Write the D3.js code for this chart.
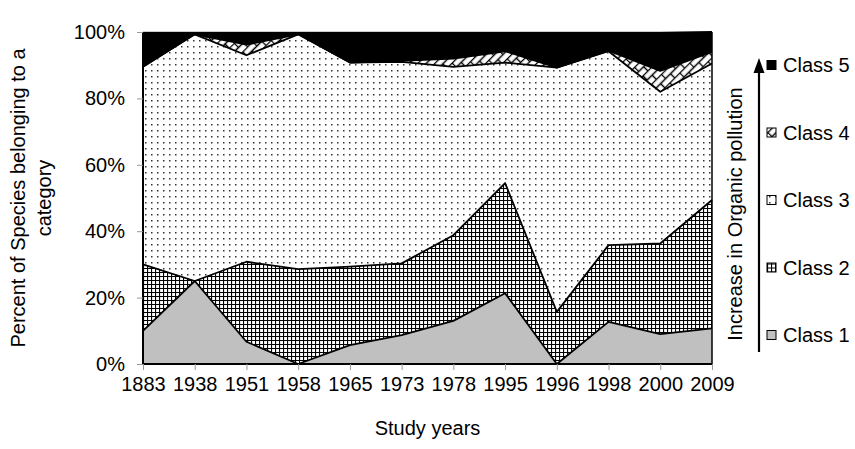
<!DOCTYPE html>
<html>
<head>
<meta charset="utf-8">
<script src="https://cdn.jsdelivr.net/npm/d3@7"></script>
<style>
  body { margin: 0; background: #fff; }
  svg { font-family: "Liberation Sans", Arial, sans-serif; }
</style>
</head>
<body>
<svg width="855" height="449"></svg>
<script>
// study years (categories)
var years = ["1883", "1938", "1951", "1958", "1965", "1973", "1978", "1995", "1996", "1998", "2000", "2009"];

// percent of species per class
var class1 = [10, 25, 6.7, 0, 5.7, 8.7, 13, 21.3, 0, 12.7, 9, 10.7];
var class2 = [20, 0, 24.1, 28.6, 23.6, 21.6, 25.8, 33.2, 15.7, 23.1, 27.3, 38.7];
var class3 = [59.5, 74.3, 62.2, 70.7, 61.5, 60.7, 50.7, 36.3, 73.6, 58.4, 45.7, 41.1];
var class4 = [0, 0, 3.2, 0, 0, 0.3, 2.5, 3.4, 0, 0.2, 6.3, 3.5];
var class5 = [10.5, 0.7, 3.8, 0.7, 9.2, 8.7, 8, 5.8, 10.7, 5.6, 11.7, 6.3];

var classNames = ["Class 1", "Class 2", "Class 3", "Class 4", "Class 5"];
var yTicks = [0, 0.2, 0.4, 0.6, 0.8, 1];

// build rows for d3.stack
var series = [class1, class2, class3, class4, class5];
var data = years.map(function(y, i) {
    var row = {year: y};
    classNames.forEach(function(k, j) { row[k] = series[j][i] / 100; });
    return row;
});

var svg = d3.select("svg"),
    margin = {top: 32, right: 143, bottom: 85, left: 143},
    width = 855 - margin.left - margin.right,
    height = 449 - margin.top - margin.bottom,
    fontSize = 20;

var x = d3.scalePoint().domain(years).range([0, width]),
    y = d3.scaleLinear().domain([0, 1]).range([height, 0]);

// fill patterns
var defs = svg.append("defs");

var grid = defs.append("pattern").attr("id", "grid")
    .attr("patternUnits", "userSpaceOnUse").attr("width", 4).attr("height", 4);
grid.append("rect").attr("width", 4).attr("height", 4).attr("fill", "#fff");
grid.append("path").attr("d", "M0,0.5H4M0.5,0V4")
    .attr("stroke", "#000").attr("stroke-width", 1.2);

var dots = defs.append("pattern").attr("id", "dots")
    .attr("patternUnits", "userSpaceOnUse").attr("width", 6).attr("height", 6);
dots.append("rect").attr("width", 6).attr("height", 6).attr("fill", "#fff");
dots.append("rect").attr("x", 2).attr("y", 2).attr("width", 1.5).attr("height", 1.5).attr("fill", "#333");

var brick = defs.append("pattern").attr("id", "brick")
    .attr("patternUnits", "userSpaceOnUse").attr("width", 14).attr("height", 12)
    .attr("patternTransform", "rotate(-45)");
brick.append("rect").attr("width", 14).attr("height", 12).attr("fill", "#fff");
brick.append("path").attr("d", "M0,0.5H14M0,6.5H14M0.5,0V6.5M7.5,6.5V12")
    .attr("stroke", "#000").attr("stroke-width", 1.4);

var fills = ["#c0c0c0", "url(#grid)", "url(#dots)", "url(#brick)", "#000"];

var stack = d3.stack().keys(classNames);
var layers = stack(data);

var area = d3.area()
    .x(function(d) { return x(d.data.year); })
    .y0(function(d) { return y(d[0]); })
    .y1(function(d) { return y(d[1]); });

var topLine = d3.line()
    .x(function(d) { return x(d.data.year); })
    .y(function(d) { return y(d[1]); });

var g = svg.append("g")
    .attr("transform", "translate(" + margin.left + "," + margin.top + ")");

// plot frame top
g.append("line").attr("x1", 0).attr("x2", width).attr("y1", 0).attr("y2", 0)
    .attr("stroke", "#999").attr("stroke-width", 1);

g.selectAll(".layer")
    .data(layers)
    .enter().append("path")
    .attr("class", "layer")
    .attr("fill", function(d, i) { return fills[i]; })
    .attr("d", area);

g.selectAll(".edge")
    .data(layers.slice(0, 4))
    .enter().append("path")
    .attr("class", "edge")
    .attr("fill", "none")
    .attr("stroke", "#000")
    .attr("stroke-width", 1.8)
    .attr("stroke-linejoin", "round")
    .attr("d", topLine);

// right edge
g.append("line").attr("x1", width).attr("x2", width).attr("y1", 0).attr("y2", height)
    .attr("stroke", "#000").attr("stroke-width", 1.5);

// x axis
var xAxis = g.append("g")
    .attr("transform", "translate(0," + height + ")")
    .call(d3.axisBottom(x).tickSize(6).tickPadding(7));
xAxis.select(".domain").attr("stroke", "#000").attr("stroke-width", 2).attr("d", "M0,0H" + width);
xAxis.selectAll(".tick line").attr("stroke", "#999");
xAxis.selectAll("text").attr("font-size", fontSize).attr("fill", "#000")
    .attr("font-family", "'Liberation Sans', Arial, sans-serif");

// y axis
var yAxis = g.append("g")
    .call(d3.axisLeft(y).tickValues(yTicks).tickFormat(d3.format(".0%")).tickSize(6).tickPadding(12));
yAxis.select(".domain").attr("stroke", "#000").attr("stroke-width", 2).attr("d", "M0," + height + "V0");
yAxis.selectAll(".tick line").attr("stroke", "#999");
yAxis.selectAll("text").attr("font-size", fontSize).attr("fill", "#000")
    .attr("font-family", "'Liberation Sans', Arial, sans-serif");

// axis titles
svg.append("text")
    .attr("x", margin.left + width / 2).attr("y", 435)
    .attr("text-anchor", "middle").attr("font-size", fontSize)
    .text("Study years");

var yTitle = svg.append("text")
    .attr("transform", "translate(25," + (margin.top + height / 2) + ") rotate(-90)")
    .attr("text-anchor", "middle").attr("font-size", fontSize);
yTitle.append("tspan").attr("x", 0).attr("dy", 0).text("Percent of Species belonging to a");
yTitle.append("tspan").attr("x", 0).attr("dy", 26).text("category");

// legend with arrow
var legend = svg.append("g");
legend.append("line")
    .attr("x1", 759).attr("x2", 759).attr("y1", 352).attr("y2", 70)
    .attr("stroke", "#000").attr("stroke-width", 2.2);
legend.append("path")
    .attr("d", "M759,58L753.5,73H764.5Z").attr("fill", "#000");
legend.append("text")
    .attr("transform", "translate(742,214) rotate(-90)")
    .attr("text-anchor", "middle").attr("font-size", fontSize)
    .text("Increase in Organic pollution");

var legendY = d3.scalePoint().domain(classNames).range([335, 65]);
var item = legend.selectAll(".item")
    .data(classNames)
    .enter().append("g")
    .attr("class", "item")
    .attr("transform", function(d) { return "translate(767," + legendY(d) + ")"; });
item.append("rect")
    .attr("x", 0).attr("y", -4.5).attr("width", 9).attr("height", 9)
    .attr("fill", function(d, i) { return fills[i]; })
    .attr("stroke", "#000").attr("stroke-width", 1);
item.append("text")
    .attr("x", 16).attr("dy", "0.35em").attr("font-size", fontSize)
    .text(function(d) { return d; });
</script>
</body>
</html>
